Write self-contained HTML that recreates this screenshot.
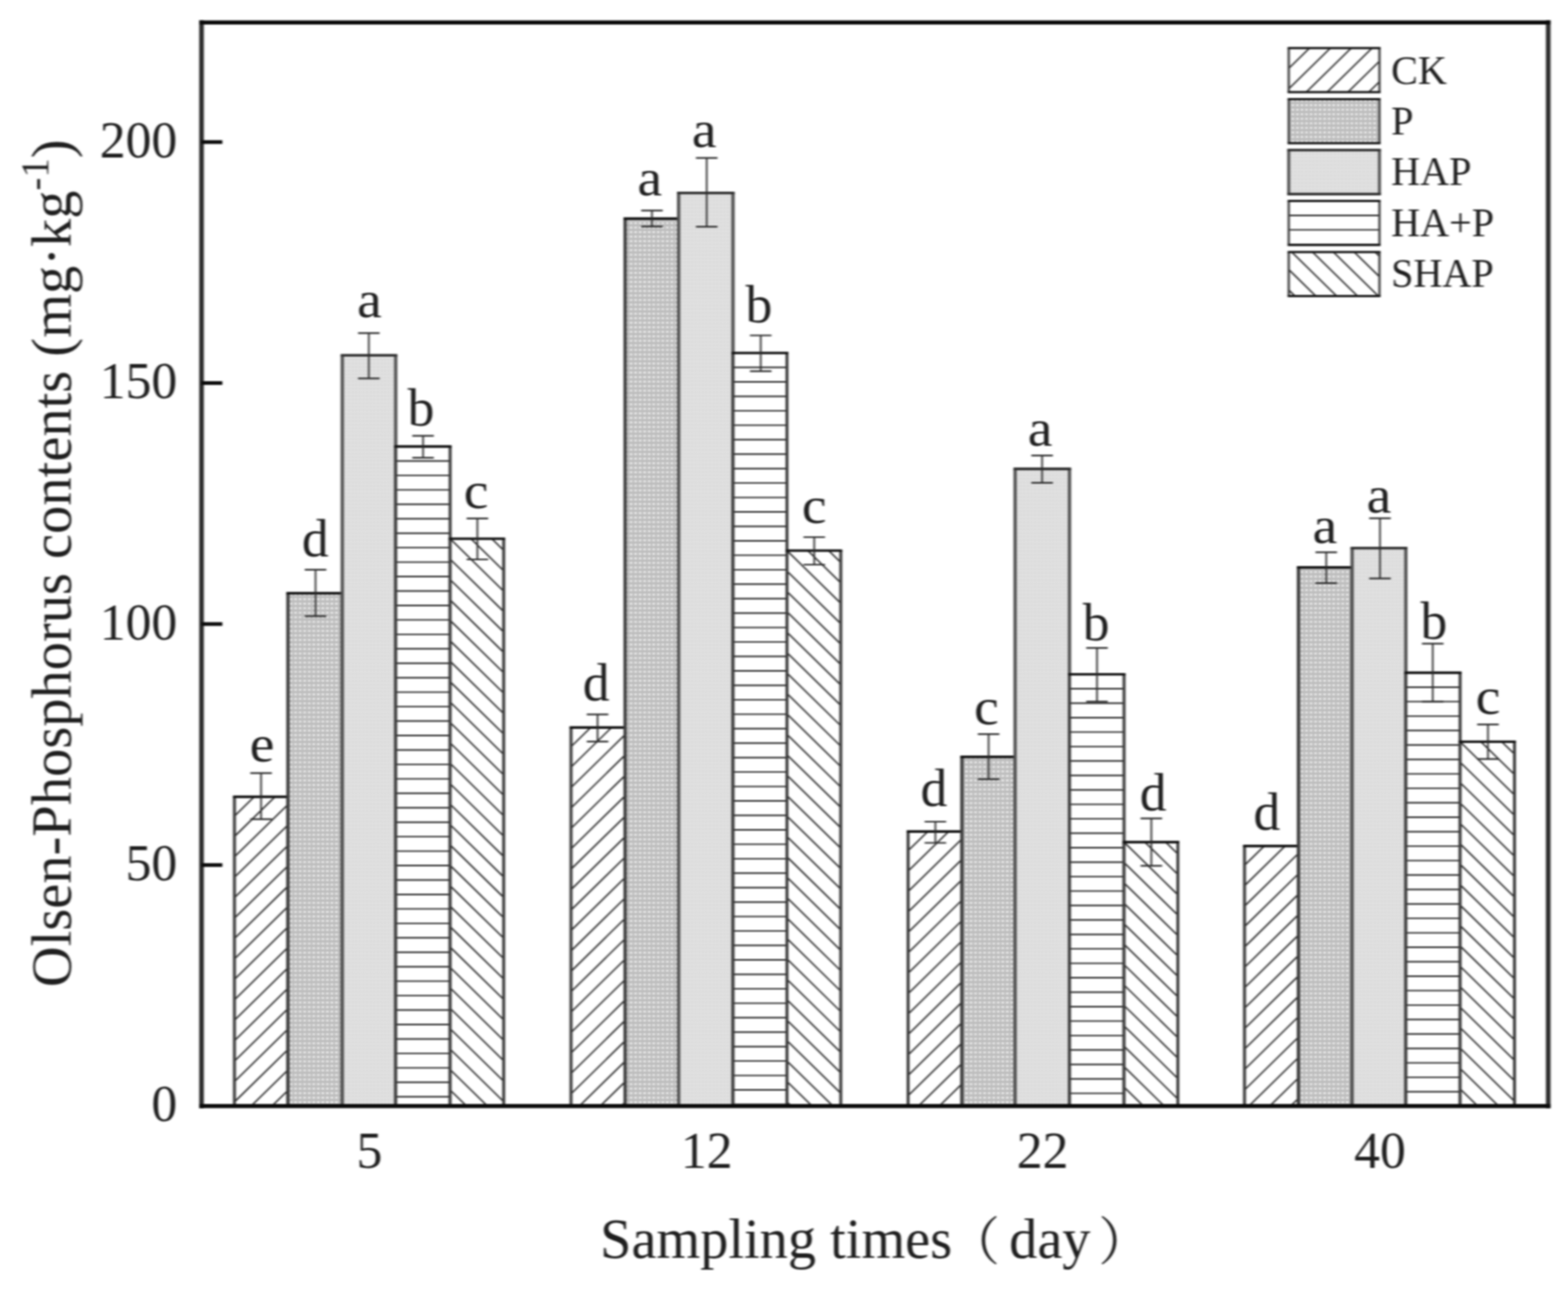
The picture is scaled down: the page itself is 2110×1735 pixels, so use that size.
<!DOCTYPE html>
<html lang="en"><head><meta charset="utf-8"><title>Olsen-Phosphorus contents</title>
<style>html,body{margin:0;padding:0;background:#fff;}body{width:2110px;height:1735px;overflow:hidden;}svg{display:block;}text{font-family:"Liberation Serif","Noto Serif CJK SC",serif;fill:#1e1e1e;}</style></head><body>
<svg width="2110" height="1735" viewBox="0 0 2110 1735">
<defs>
<pattern id="pP" width="6.1" height="6.1" patternUnits="userSpaceOnUse"><rect width="6.1" height="6.1" fill="#bdbdbd"/><rect x="0" y="0" width="2.6" height="2.6" fill="#fafafa"/></pattern>
<pattern id="pH" width="4.86" height="4.86" patternUnits="userSpaceOnUse"><rect width="4.86" height="4.86" fill="#dadada"/><rect x="0" y="0" width="4.86" height="1.2" fill="#e4e4e4"/><rect x="0" y="0" width="1.2" height="4.86" fill="#e4e4e4"/></pattern>
<filter id="bl" x="-2%" y="-2%" width="104%" height="104%" color-interpolation-filters="sRGB"><feGaussianBlur stdDeviation="1.45 1"/></filter>
</defs>
<rect width="2110" height="1735" fill="#ffffff"/>
<g filter="url(#bl)">
<rect x="315.50" y="1072.50" width="72.00" height="416.20" fill="#ffffff"/>
<clipPath id="c1"><rect x="315.50" y="1072.50" width="72.00" height="416.20"/></clipPath>
<path clip-path="url(#c1)" d="M315.50 988.56L387.50 918.00M315.50 1016.04L387.50 945.48M315.50 1043.52L387.50 972.96M315.50 1071.00L387.50 1000.44M315.50 1098.48L387.50 1027.92M315.50 1125.96L387.50 1055.40M315.50 1153.44L387.50 1082.88M315.50 1180.92L387.50 1110.36M315.50 1208.40L387.50 1137.84M315.50 1235.88L387.50 1165.32M315.50 1263.36L387.50 1192.80M315.50 1290.84L387.50 1220.28M315.50 1318.32L387.50 1247.76M315.50 1345.80L387.50 1275.24M315.50 1373.28L387.50 1302.72M315.50 1400.76L387.50 1330.20M315.50 1428.24L387.50 1357.68M315.50 1455.72L387.50 1385.16M315.50 1483.20L387.50 1412.64M315.50 1510.68L387.50 1440.12M315.50 1538.16L387.50 1467.60M315.50 1565.64L387.50 1495.08" fill="none" stroke="#202020" stroke-width="1.9"/>
<path d="M315.50 1488.70V1072.50M387.50 1072.50V1488.70" fill="none" stroke="#3b3b3b" stroke-width="4"/>
<path d="M313.50 1072.50H389.50" fill="none" stroke="#101010" stroke-width="3.4"/>
<rect x="387.50" y="798.50" width="73.10" height="690.20" fill="url(#pP)"/>
<path d="M387.50 1488.70V798.50M460.60 798.50V1488.70" fill="none" stroke="#3b3b3b" stroke-width="4.4"/>
<path d="M385.30 798.50H462.80" fill="none" stroke="#101010" stroke-width="3.4"/>
<rect x="460.60" y="478.20" width="71.90" height="1010.50" fill="url(#pH)"/>
<path d="M460.60 1488.70V478.20M532.50 478.20V1488.70" fill="none" stroke="#505050" stroke-width="4.4"/>
<path d="M458.40 478.20H534.70" fill="none" stroke="#303030" stroke-width="3.6"/>
<rect x="532.50" y="601.00" width="73.20" height="887.70" fill="#ffffff"/>
<clipPath id="c2"><rect x="532.50" y="601.00" width="73.20" height="887.70"/></clipPath>
<path clip-path="url(#c2)" d="M532.50 601.00H605.70M532.50 620.45H605.70M532.50 639.90H605.70M532.50 659.35H605.70M532.50 678.80H605.70M532.50 698.25H605.70M532.50 717.70H605.70M532.50 737.15H605.70M532.50 756.60H605.70M532.50 776.05H605.70M532.50 795.50H605.70M532.50 814.95H605.70M532.50 834.40H605.70M532.50 853.85H605.70M532.50 873.30H605.70M532.50 892.75H605.70M532.50 912.20H605.70M532.50 931.65H605.70M532.50 951.10H605.70M532.50 970.55H605.70M532.50 990.00H605.70M532.50 1009.45H605.70M532.50 1028.90H605.70M532.50 1048.35H605.70M532.50 1067.80H605.70M532.50 1087.25H605.70M532.50 1106.70H605.70M532.50 1126.15H605.70M532.50 1145.60H605.70M532.50 1165.05H605.70M532.50 1184.50H605.70M532.50 1203.95H605.70M532.50 1223.40H605.70M532.50 1242.85H605.70M532.50 1262.30H605.70M532.50 1281.75H605.70M532.50 1301.20H605.70M532.50 1320.65H605.70M532.50 1340.10H605.70M532.50 1359.55H605.70M532.50 1379.00H605.70M532.50 1398.45H605.70M532.50 1417.90H605.70M532.50 1437.35H605.70M532.50 1456.80H605.70M532.50 1476.25H605.70M532.50 1495.70H605.70" fill="none" stroke="#202020" stroke-width="1.9"/>
<path d="M532.50 1488.70V601.00M605.70 601.00V1488.70" fill="none" stroke="#3b3b3b" stroke-width="4"/>
<path d="M530.50 601.00H607.70" fill="none" stroke="#101010" stroke-width="3.4"/>
<rect x="605.70" y="725.10" width="72.10" height="763.60" fill="#ffffff"/>
<clipPath id="c3"><rect x="605.70" y="725.10" width="72.10" height="763.60"/></clipPath>
<path clip-path="url(#c3)" d="M605.70 642.66L677.80 713.32M605.70 670.14L677.80 740.80M605.70 697.62L677.80 768.28M605.70 725.10L677.80 795.76M605.70 752.58L677.80 823.24M605.70 780.06L677.80 850.72M605.70 807.54L677.80 878.20M605.70 835.02L677.80 905.68M605.70 862.50L677.80 933.16M605.70 889.98L677.80 960.64M605.70 917.46L677.80 988.12M605.70 944.94L677.80 1015.60M605.70 972.42L677.80 1043.08M605.70 999.90L677.80 1070.56M605.70 1027.38L677.80 1098.04M605.70 1054.86L677.80 1125.52M605.70 1082.34L677.80 1153.00M605.70 1109.82L677.80 1180.48M605.70 1137.30L677.80 1207.96M605.70 1164.78L677.80 1235.44M605.70 1192.26L677.80 1262.92M605.70 1219.74L677.80 1290.40M605.70 1247.22L677.80 1317.88M605.70 1274.70L677.80 1345.36M605.70 1302.18L677.80 1372.84M605.70 1329.66L677.80 1400.32M605.70 1357.14L677.80 1427.80M605.70 1384.62L677.80 1455.28M605.70 1412.10L677.80 1482.76M605.70 1439.58L677.80 1510.24M605.70 1467.06L677.80 1537.72M605.70 1494.54L677.80 1565.20M605.70 1522.02L677.80 1592.68M605.70 1549.50L677.80 1620.16M605.70 1576.98L677.80 1647.64" fill="none" stroke="#202020" stroke-width="1.9"/>
<path d="M605.70 1488.70V725.10M677.80 725.10V1488.70" fill="none" stroke="#3b3b3b" stroke-width="4"/>
<path d="M603.70 725.10H679.80" fill="none" stroke="#101010" stroke-width="3.4"/>
<rect x="768.40" y="979.20" width="72.80" height="509.50" fill="#ffffff"/>
<clipPath id="c4"><rect x="768.40" y="979.20" width="72.80" height="509.50"/></clipPath>
<path clip-path="url(#c4)" d="M768.40 895.26L841.20 823.92M768.40 922.74L841.20 851.40M768.40 950.22L841.20 878.88M768.40 977.70L841.20 906.36M768.40 1005.18L841.20 933.84M768.40 1032.66L841.20 961.32M768.40 1060.14L841.20 988.80M768.40 1087.62L841.20 1016.28M768.40 1115.10L841.20 1043.76M768.40 1142.58L841.20 1071.24M768.40 1170.06L841.20 1098.72M768.40 1197.54L841.20 1126.20M768.40 1225.02L841.20 1153.68M768.40 1252.50L841.20 1181.16M768.40 1279.98L841.20 1208.64M768.40 1307.46L841.20 1236.12M768.40 1334.94L841.20 1263.60M768.40 1362.42L841.20 1291.08M768.40 1389.90L841.20 1318.56M768.40 1417.38L841.20 1346.04M768.40 1444.86L841.20 1373.52M768.40 1472.34L841.20 1401.00M768.40 1499.82L841.20 1428.48M768.40 1527.30L841.20 1455.96M768.40 1554.78L841.20 1483.44M768.40 1582.26L841.20 1510.92" fill="none" stroke="#202020" stroke-width="1.9"/>
<path d="M768.40 1488.70V979.20M841.20 979.20V1488.70" fill="none" stroke="#3b3b3b" stroke-width="4"/>
<path d="M766.40 979.20H843.20" fill="none" stroke="#101010" stroke-width="3.4"/>
<rect x="841.20" y="294.20" width="72.00" height="1194.50" fill="url(#pP)"/>
<path d="M841.20 1488.70V294.20M913.20 294.20V1488.70" fill="none" stroke="#3b3b3b" stroke-width="4.4"/>
<path d="M839.00 294.20H915.40" fill="none" stroke="#101010" stroke-width="3.4"/>
<rect x="913.20" y="259.80" width="73.20" height="1228.90" fill="url(#pH)"/>
<path d="M913.20 1488.70V259.80M986.40 259.80V1488.70" fill="none" stroke="#505050" stroke-width="4.4"/>
<path d="M911.00 259.80H988.60" fill="none" stroke="#303030" stroke-width="3.6"/>
<rect x="986.40" y="475.10" width="72.60" height="1013.60" fill="#ffffff"/>
<clipPath id="c5"><rect x="986.40" y="475.10" width="72.60" height="1013.60"/></clipPath>
<path clip-path="url(#c5)" d="M986.40 475.10H1059.00M986.40 494.55H1059.00M986.40 514.00H1059.00M986.40 533.45H1059.00M986.40 552.90H1059.00M986.40 572.35H1059.00M986.40 591.80H1059.00M986.40 611.25H1059.00M986.40 630.70H1059.00M986.40 650.15H1059.00M986.40 669.60H1059.00M986.40 689.05H1059.00M986.40 708.50H1059.00M986.40 727.95H1059.00M986.40 747.40H1059.00M986.40 766.85H1059.00M986.40 786.30H1059.00M986.40 805.75H1059.00M986.40 825.20H1059.00M986.40 844.65H1059.00M986.40 864.10H1059.00M986.40 883.55H1059.00M986.40 903.00H1059.00M986.40 922.45H1059.00M986.40 941.90H1059.00M986.40 961.35H1059.00M986.40 980.80H1059.00M986.40 1000.25H1059.00M986.40 1019.70H1059.00M986.40 1039.15H1059.00M986.40 1058.60H1059.00M986.40 1078.05H1059.00M986.40 1097.50H1059.00M986.40 1116.95H1059.00M986.40 1136.40H1059.00M986.40 1155.85H1059.00M986.40 1175.30H1059.00M986.40 1194.75H1059.00M986.40 1214.20H1059.00M986.40 1233.65H1059.00M986.40 1253.10H1059.00M986.40 1272.55H1059.00M986.40 1292.00H1059.00M986.40 1311.45H1059.00M986.40 1330.90H1059.00M986.40 1350.35H1059.00M986.40 1369.80H1059.00M986.40 1389.25H1059.00M986.40 1408.70H1059.00M986.40 1428.15H1059.00M986.40 1447.60H1059.00M986.40 1467.05H1059.00M986.40 1486.50H1059.00M986.40 1505.95H1059.00" fill="none" stroke="#202020" stroke-width="1.9"/>
<path d="M986.40 1488.70V475.10M1059.00 475.10V1488.70" fill="none" stroke="#3b3b3b" stroke-width="4"/>
<path d="M984.40 475.10H1061.00" fill="none" stroke="#101010" stroke-width="3.4"/>
<rect x="1059.00" y="741.10" width="72.40" height="747.60" fill="#ffffff"/>
<clipPath id="c6"><rect x="1059.00" y="741.10" width="72.40" height="747.60"/></clipPath>
<path clip-path="url(#c6)" d="M1059.00 658.66L1131.40 729.61M1059.00 686.14L1131.40 757.09M1059.00 713.62L1131.40 784.57M1059.00 741.10L1131.40 812.05M1059.00 768.58L1131.40 839.53M1059.00 796.06L1131.40 867.01M1059.00 823.54L1131.40 894.49M1059.00 851.02L1131.40 921.97M1059.00 878.50L1131.40 949.45M1059.00 905.98L1131.40 976.93M1059.00 933.46L1131.40 1004.41M1059.00 960.94L1131.40 1031.89M1059.00 988.42L1131.40 1059.37M1059.00 1015.90L1131.40 1086.85M1059.00 1043.38L1131.40 1114.33M1059.00 1070.86L1131.40 1141.81M1059.00 1098.34L1131.40 1169.29M1059.00 1125.82L1131.40 1196.77M1059.00 1153.30L1131.40 1224.25M1059.00 1180.78L1131.40 1251.73M1059.00 1208.26L1131.40 1279.21M1059.00 1235.74L1131.40 1306.69M1059.00 1263.22L1131.40 1334.17M1059.00 1290.70L1131.40 1361.65M1059.00 1318.18L1131.40 1389.13M1059.00 1345.66L1131.40 1416.61M1059.00 1373.14L1131.40 1444.09M1059.00 1400.62L1131.40 1471.57M1059.00 1428.10L1131.40 1499.05M1059.00 1455.58L1131.40 1526.53M1059.00 1483.06L1131.40 1554.01M1059.00 1510.54L1131.40 1581.49M1059.00 1538.02L1131.40 1608.97M1059.00 1565.50L1131.40 1636.45" fill="none" stroke="#202020" stroke-width="1.9"/>
<path d="M1059.00 1488.70V741.10M1131.40 741.10V1488.70" fill="none" stroke="#3b3b3b" stroke-width="4"/>
<path d="M1057.00 741.10H1133.40" fill="none" stroke="#101010" stroke-width="3.4"/>
<rect x="1222.00" y="1119.20" width="72.40" height="369.50" fill="#ffffff"/>
<clipPath id="c7"><rect x="1222.00" y="1119.20" width="72.40" height="369.50"/></clipPath>
<path clip-path="url(#c7)" d="M1222.00 1035.26L1294.40 964.31M1222.00 1062.74L1294.40 991.79M1222.00 1090.22L1294.40 1019.27M1222.00 1117.70L1294.40 1046.75M1222.00 1145.18L1294.40 1074.23M1222.00 1172.66L1294.40 1101.71M1222.00 1200.14L1294.40 1129.19M1222.00 1227.62L1294.40 1156.67M1222.00 1255.10L1294.40 1184.15M1222.00 1282.58L1294.40 1211.63M1222.00 1310.06L1294.40 1239.11M1222.00 1337.54L1294.40 1266.59M1222.00 1365.02L1294.40 1294.07M1222.00 1392.50L1294.40 1321.55M1222.00 1419.98L1294.40 1349.03M1222.00 1447.46L1294.40 1376.51M1222.00 1474.94L1294.40 1403.99M1222.00 1502.42L1294.40 1431.47M1222.00 1529.90L1294.40 1458.95M1222.00 1557.38L1294.40 1486.43M1222.00 1584.86L1294.40 1513.91" fill="none" stroke="#202020" stroke-width="1.9"/>
<path d="M1222.00 1488.70V1119.20M1294.40 1119.20V1488.70" fill="none" stroke="#3b3b3b" stroke-width="4"/>
<path d="M1220.00 1119.20H1296.40" fill="none" stroke="#101010" stroke-width="3.4"/>
<rect x="1294.40" y="1018.70" width="71.60" height="470.00" fill="url(#pP)"/>
<path d="M1294.40 1488.70V1018.70M1366.00 1018.70V1488.70" fill="none" stroke="#3b3b3b" stroke-width="4.4"/>
<path d="M1292.20 1018.70H1368.20" fill="none" stroke="#101010" stroke-width="3.4"/>
<rect x="1366.00" y="631.10" width="73.20" height="857.60" fill="url(#pH)"/>
<path d="M1366.00 1488.70V631.10M1439.20 631.10V1488.70" fill="none" stroke="#505050" stroke-width="4.4"/>
<path d="M1363.80 631.10H1441.40" fill="none" stroke="#303030" stroke-width="3.6"/>
<rect x="1439.20" y="907.60" width="73.40" height="581.10" fill="#ffffff"/>
<clipPath id="c8"><rect x="1439.20" y="907.60" width="73.40" height="581.10"/></clipPath>
<path clip-path="url(#c8)" d="M1439.20 907.60H1512.60M1439.20 927.05H1512.60M1439.20 946.50H1512.60M1439.20 965.95H1512.60M1439.20 985.40H1512.60M1439.20 1004.85H1512.60M1439.20 1024.30H1512.60M1439.20 1043.75H1512.60M1439.20 1063.20H1512.60M1439.20 1082.65H1512.60M1439.20 1102.10H1512.60M1439.20 1121.55H1512.60M1439.20 1141.00H1512.60M1439.20 1160.45H1512.60M1439.20 1179.90H1512.60M1439.20 1199.35H1512.60M1439.20 1218.80H1512.60M1439.20 1238.25H1512.60M1439.20 1257.70H1512.60M1439.20 1277.15H1512.60M1439.20 1296.60H1512.60M1439.20 1316.05H1512.60M1439.20 1335.50H1512.60M1439.20 1354.95H1512.60M1439.20 1374.40H1512.60M1439.20 1393.85H1512.60M1439.20 1413.30H1512.60M1439.20 1432.75H1512.60M1439.20 1452.20H1512.60M1439.20 1471.65H1512.60M1439.20 1491.10H1512.60" fill="none" stroke="#202020" stroke-width="1.9"/>
<path d="M1439.20 1488.70V907.60M1512.60 907.60V1488.70" fill="none" stroke="#3b3b3b" stroke-width="4"/>
<path d="M1437.20 907.60H1514.60" fill="none" stroke="#101010" stroke-width="3.4"/>
<rect x="1512.60" y="1133.50" width="72.40" height="355.20" fill="#ffffff"/>
<clipPath id="c9"><rect x="1512.60" y="1133.50" width="72.40" height="355.20"/></clipPath>
<path clip-path="url(#c9)" d="M1512.60 1051.06L1585.00 1122.01M1512.60 1078.54L1585.00 1149.49M1512.60 1106.02L1585.00 1176.97M1512.60 1133.50L1585.00 1204.45M1512.60 1160.98L1585.00 1231.93M1512.60 1188.46L1585.00 1259.41M1512.60 1215.94L1585.00 1286.89M1512.60 1243.42L1585.00 1314.37M1512.60 1270.90L1585.00 1341.85M1512.60 1298.38L1585.00 1369.33M1512.60 1325.86L1585.00 1396.81M1512.60 1353.34L1585.00 1424.29M1512.60 1380.82L1585.00 1451.77M1512.60 1408.30L1585.00 1479.25M1512.60 1435.78L1585.00 1506.73M1512.60 1463.26L1585.00 1534.21M1512.60 1490.74L1585.00 1561.69M1512.60 1518.22L1585.00 1589.17M1512.60 1545.70L1585.00 1616.65M1512.60 1573.18L1585.00 1644.13" fill="none" stroke="#202020" stroke-width="1.9"/>
<path d="M1512.60 1488.70V1133.50M1585.00 1133.50V1488.70" fill="none" stroke="#3b3b3b" stroke-width="4"/>
<path d="M1510.60 1133.50H1587.00" fill="none" stroke="#101010" stroke-width="3.4"/>
<rect x="1674.70" y="1138.80" width="72.60" height="349.90" fill="#ffffff"/>
<clipPath id="c10"><rect x="1674.70" y="1138.80" width="72.60" height="349.90"/></clipPath>
<path clip-path="url(#c10)" d="M1674.70 1054.86L1747.30 983.71M1674.70 1082.34L1747.30 1011.19M1674.70 1109.82L1747.30 1038.67M1674.70 1137.30L1747.30 1066.15M1674.70 1164.78L1747.30 1093.63M1674.70 1192.26L1747.30 1121.11M1674.70 1219.74L1747.30 1148.59M1674.70 1247.22L1747.30 1176.07M1674.70 1274.70L1747.30 1203.55M1674.70 1302.18L1747.30 1231.03M1674.70 1329.66L1747.30 1258.51M1674.70 1357.14L1747.30 1285.99M1674.70 1384.62L1747.30 1313.47M1674.70 1412.10L1747.30 1340.95M1674.70 1439.58L1747.30 1368.43M1674.70 1467.06L1747.30 1395.91M1674.70 1494.54L1747.30 1423.39M1674.70 1522.02L1747.30 1450.87M1674.70 1549.50L1747.30 1478.35M1674.70 1576.98L1747.30 1505.83" fill="none" stroke="#202020" stroke-width="1.9"/>
<path d="M1674.70 1488.70V1138.80M1747.30 1138.80V1488.70" fill="none" stroke="#3b3b3b" stroke-width="4"/>
<path d="M1672.70 1138.80H1749.30" fill="none" stroke="#101010" stroke-width="3.4"/>
<rect x="1747.30" y="763.70" width="72.20" height="725.00" fill="url(#pP)"/>
<path d="M1747.30 1488.70V763.70M1819.50 763.70V1488.70" fill="none" stroke="#3b3b3b" stroke-width="4.4"/>
<path d="M1745.10 763.70H1821.70" fill="none" stroke="#101010" stroke-width="3.4"/>
<rect x="1819.50" y="737.80" width="72.30" height="750.90" fill="url(#pH)"/>
<path d="M1819.50 1488.70V737.80M1891.80 737.80V1488.70" fill="none" stroke="#505050" stroke-width="4.4"/>
<path d="M1817.30 737.80H1894.00" fill="none" stroke="#303030" stroke-width="3.6"/>
<rect x="1891.80" y="905.50" width="73.00" height="583.20" fill="#ffffff"/>
<clipPath id="c11"><rect x="1891.80" y="905.50" width="73.00" height="583.20"/></clipPath>
<path clip-path="url(#c11)" d="M1891.80 905.50H1964.80M1891.80 924.95H1964.80M1891.80 944.40H1964.80M1891.80 963.85H1964.80M1891.80 983.30H1964.80M1891.80 1002.75H1964.80M1891.80 1022.20H1964.80M1891.80 1041.65H1964.80M1891.80 1061.10H1964.80M1891.80 1080.55H1964.80M1891.80 1100.00H1964.80M1891.80 1119.45H1964.80M1891.80 1138.90H1964.80M1891.80 1158.35H1964.80M1891.80 1177.80H1964.80M1891.80 1197.25H1964.80M1891.80 1216.70H1964.80M1891.80 1236.15H1964.80M1891.80 1255.60H1964.80M1891.80 1275.05H1964.80M1891.80 1294.50H1964.80M1891.80 1313.95H1964.80M1891.80 1333.40H1964.80M1891.80 1352.85H1964.80M1891.80 1372.30H1964.80M1891.80 1391.75H1964.80M1891.80 1411.20H1964.80M1891.80 1430.65H1964.80M1891.80 1450.10H1964.80M1891.80 1469.55H1964.80M1891.80 1489.00H1964.80" fill="none" stroke="#202020" stroke-width="1.9"/>
<path d="M1891.80 1488.70V905.50M1964.80 905.50V1488.70" fill="none" stroke="#3b3b3b" stroke-width="4"/>
<path d="M1889.80 905.50H1966.80" fill="none" stroke="#101010" stroke-width="3.4"/>
<rect x="1964.80" y="998.40" width="73.20" height="490.30" fill="#ffffff"/>
<clipPath id="c12"><rect x="1964.80" y="998.40" width="73.20" height="490.30"/></clipPath>
<path clip-path="url(#c12)" d="M1964.80 915.96L2038.00 987.70M1964.80 943.44L2038.00 1015.18M1964.80 970.92L2038.00 1042.66M1964.80 998.40L2038.00 1070.14M1964.80 1025.88L2038.00 1097.62M1964.80 1053.36L2038.00 1125.10M1964.80 1080.84L2038.00 1152.58M1964.80 1108.32L2038.00 1180.06M1964.80 1135.80L2038.00 1207.54M1964.80 1163.28L2038.00 1235.02M1964.80 1190.76L2038.00 1262.50M1964.80 1218.24L2038.00 1289.98M1964.80 1245.72L2038.00 1317.46M1964.80 1273.20L2038.00 1344.94M1964.80 1300.68L2038.00 1372.42M1964.80 1328.16L2038.00 1399.90M1964.80 1355.64L2038.00 1427.38M1964.80 1383.12L2038.00 1454.86M1964.80 1410.60L2038.00 1482.34M1964.80 1438.08L2038.00 1509.82M1964.80 1465.56L2038.00 1537.30M1964.80 1493.04L2038.00 1564.78M1964.80 1520.52L2038.00 1592.26M1964.80 1548.00L2038.00 1619.74M1964.80 1575.48L2038.00 1647.22" fill="none" stroke="#202020" stroke-width="1.9"/>
<path d="M1964.80 1488.70V998.40M2038.00 998.40V1488.70" fill="none" stroke="#3b3b3b" stroke-width="4"/>
<path d="M1962.80 998.40H2040.00" fill="none" stroke="#101010" stroke-width="3.4"/>
<path d="M351.30 1040.70V1102.70M336.80 1040.70H365.80M336.80 1102.70H365.80" fill="none" stroke="#2a2a2a" stroke-width="2.2"/>
<path d="M424.60 766.80V829.40M410.10 766.80H439.10M410.10 829.40H439.10" fill="none" stroke="#2a2a2a" stroke-width="2.2"/>
<path d="M496.30 448.30V509.30M481.80 448.30H510.80M481.80 509.30H510.80" fill="none" stroke="#2a2a2a" stroke-width="2.2"/>
<path d="M569.30 586.70V616.10M554.80 586.70H583.80M554.80 616.10H583.80" fill="none" stroke="#2a2a2a" stroke-width="2.2"/>
<path d="M642.40 697.90V753.00M627.90 697.90H656.90M627.90 753.00H656.90" fill="none" stroke="#2a2a2a" stroke-width="2.2"/>
<path d="M804.10 961.70V998.10M789.60 961.70H818.60M789.60 998.10H818.60" fill="none" stroke="#2a2a2a" stroke-width="2.2"/>
<path d="M877.30 283.30V304.80M862.80 283.30H891.80M862.80 304.80H891.80" fill="none" stroke="#2a2a2a" stroke-width="2.2"/>
<path d="M951.00 212.60V305.20M936.50 212.60H965.50M936.50 305.20H965.50" fill="none" stroke="#2a2a2a" stroke-width="2.2"/>
<path d="M1023.70 451.50V499.60M1009.20 451.50H1038.20M1009.20 499.60H1038.20" fill="none" stroke="#2a2a2a" stroke-width="2.2"/>
<path d="M1095.70 723.00V760.00M1081.20 723.00H1110.20M1081.20 760.00H1110.20" fill="none" stroke="#2a2a2a" stroke-width="2.2"/>
<path d="M1258.70 1106.00V1134.50M1244.20 1106.00H1273.20M1244.20 1134.50H1273.20" fill="none" stroke="#2a2a2a" stroke-width="2.2"/>
<path d="M1330.30 988.20V1048.90M1315.80 988.20H1344.80M1315.80 1048.90H1344.80" fill="none" stroke="#2a2a2a" stroke-width="2.2"/>
<path d="M1402.30 613.20V649.80M1387.80 613.20H1416.80M1387.80 649.80H1416.80" fill="none" stroke="#2a2a2a" stroke-width="2.2"/>
<path d="M1476.20 872.20V944.40M1461.70 872.20H1490.70M1461.70 944.40H1490.70" fill="none" stroke="#2a2a2a" stroke-width="2.2"/>
<path d="M1549.30 1101.70V1165.30M1534.80 1101.70H1563.80M1534.80 1165.30H1563.80" fill="none" stroke="#2a2a2a" stroke-width="2.2"/>
<path d="M1784.70 743.40V784.80M1770.20 743.40H1799.20M1770.20 784.80H1799.20" fill="none" stroke="#2a2a2a" stroke-width="2.2"/>
<path d="M1857.00 697.60V778.60M1842.50 697.60H1871.50M1842.50 778.60H1871.50" fill="none" stroke="#2a2a2a" stroke-width="2.2"/>
<path d="M1928.00 866.40V944.40M1913.50 866.40H1942.50M1913.50 944.40H1942.50" fill="none" stroke="#2a2a2a" stroke-width="2.2"/>
<path d="M2002.30 975.10V1021.70M1987.80 975.10H2016.80M1987.80 1021.70H2016.80" fill="none" stroke="#2a2a2a" stroke-width="2.2"/>
<text transform="translate(352.50 1025.00) scale(1.04 0.955)" font-size="72" text-anchor="middle">e</text>
<text x="424.20" y="748.50" font-size="72" text-anchor="middle">d</text>
<text transform="translate(497.20 427.00) scale(1.04 0.955)" font-size="72" text-anchor="middle">a</text>
<text x="566.50" y="573.00" font-size="72" text-anchor="middle">b</text>
<text transform="translate(640.50 684.20) scale(1.04 0.955)" font-size="72" text-anchor="middle">c</text>
<text x="802.20" y="943.20" font-size="72" text-anchor="middle">d</text>
<text transform="translate(874.40 263.00) scale(1.04 0.955)" font-size="72" text-anchor="middle">a</text>
<text transform="translate(947.50 198.30) scale(1.04 0.955)" font-size="72" text-anchor="middle">a</text>
<text x="1021.20" y="434.20" font-size="72" text-anchor="middle">b</text>
<text transform="translate(1095.70 703.50) scale(1.04 0.955)" font-size="72" text-anchor="middle">c</text>
<text x="1256.70" y="1085.20" font-size="72" text-anchor="middle">d</text>
<text transform="translate(1327.40 974.80) scale(1.04 0.955)" font-size="72" text-anchor="middle">c</text>
<text transform="translate(1399.50 599.80) scale(1.04 0.955)" font-size="72" text-anchor="middle">a</text>
<text x="1475.10" y="862.30" font-size="72" text-anchor="middle">b</text>
<text x="1551.80" y="1091.20" font-size="72" text-anchor="middle">d</text>
<text x="1704.70" y="1117.40" font-size="72" text-anchor="middle">d</text>
<text transform="translate(1782.80 731.40) scale(1.04 0.955)" font-size="72" text-anchor="middle">a</text>
<text transform="translate(1855.50 689.60) scale(1.04 0.955)" font-size="72" text-anchor="middle">a</text>
<text x="1929.60" y="860.00" font-size="72" text-anchor="middle">b</text>
<text transform="translate(2002.30 961.00) scale(1.04 0.955)" font-size="72" text-anchor="middle">c</text>
<path d="M271.20 27.30V1491.70M2083.40 27.30V1491.70" fill="none" stroke="#2a2a2a" stroke-width="6.2"/>
<path d="M268.20 30.30H2086.40M268.20 1488.70H2086.40" fill="none" stroke="#0a0a0a" stroke-width="5.6"/>
<path d="M271.20 1164.33H299.20" stroke="#0a0a0a" stroke-width="5"/>
<path d="M271.20 839.95H299.20" stroke="#0a0a0a" stroke-width="5"/>
<path d="M271.20 515.58H299.20" stroke="#0a0a0a" stroke-width="5"/>
<path d="M271.20 191.20H299.20" stroke="#0a0a0a" stroke-width="5"/>
<text x="238.50" y="1509.30" font-size="69.5" text-anchor="end">0</text>
<text x="238.50" y="1185.00" font-size="69.5" text-anchor="end">50</text>
<text x="238.50" y="860.60" font-size="69.5" text-anchor="end">100</text>
<text x="238.50" y="536.20" font-size="69.5" text-anchor="end">150</text>
<text x="238.50" y="211.80" font-size="69.5" text-anchor="end">200</text>
<text x="497.00" y="1572.00" font-size="69.5" text-anchor="middle">5</text>
<text x="951.00" y="1572.00" font-size="69.5" text-anchor="middle">12</text>
<text x="1403.00" y="1572.00" font-size="69.5" text-anchor="middle">22</text>
<text x="1857.00" y="1572.00" font-size="69.5" text-anchor="middle">40</text>
<text y="1693.00" font-size="75.8" text-anchor="start"><tspan x="807.50">Sampling times</tspan><tspan x="1275.60" dy="3" font-size="70">（</tspan><tspan x="1358.00" dy="-3">day</tspan><tspan x="1478.00" dy="3" font-size="70">）</tspan></text>
<text transform="translate(95.00 1328.70) rotate(-90)" font-size="76" text-anchor="start">Olsen-Phosphorus contents (mg·kg<tspan dy="-30" font-size="52">-1</tspan><tspan dy="30">)</tspan></text>
<rect x="1734.20" y="64.70" width="122.10" height="59.20" fill="#ffffff"/>
<clipPath id="c13"><rect x="1734.20" y="64.70" width="122.10" height="59.20"/></clipPath>
<path clip-path="url(#c13)" d="M1734.20 -72.70L1856.30 -192.36M1734.20 -45.22L1856.30 -164.88M1734.20 -17.74L1856.30 -137.40M1734.20 9.74L1856.30 -109.92M1734.20 37.22L1856.30 -82.44M1734.20 64.70L1856.30 -54.96M1734.20 92.18L1856.30 -27.48M1734.20 119.66L1856.30 0.00M1734.20 147.14L1856.30 27.48M1734.20 174.62L1856.30 54.96M1734.20 202.10L1856.30 82.44M1734.20 229.58L1856.30 109.92M1734.20 257.06L1856.30 137.40" fill="none" stroke="#202020" stroke-width="1.9"/>
<path d="M1734.20 123.90V64.70M1856.30 64.70V123.90" fill="none" stroke="#3b3b3b" stroke-width="3"/>
<path d="M1732.70 64.70H1857.80M1732.70 123.90H1857.80" fill="none" stroke="#161616" stroke-width="3"/>
<text x="1872.00" y="112.50" font-size="54" text-anchor="start">CK</text>
<rect x="1734.20" y="133.50" width="122.10" height="59.20" fill="url(#pP)"/>
<path d="M1734.20 192.70V133.50M1856.30 133.50V192.70" fill="none" stroke="#3b3b3b" stroke-width="3"/>
<path d="M1732.70 133.50H1857.80M1732.70 192.70H1857.80" fill="none" stroke="#161616" stroke-width="3"/>
<text x="1872.00" y="181.00" font-size="54" text-anchor="start">P</text>
<rect x="1734.20" y="202.00" width="122.10" height="59.20" fill="url(#pH)"/>
<path d="M1734.20 261.20V202.00M1856.30 202.00V261.20" fill="none" stroke="#505050" stroke-width="4"/>
<path d="M1732.20 202.00H1858.30M1732.20 261.20H1858.30" fill="none" stroke="#303030" stroke-width="3.6"/>
<text x="1872.00" y="249.30" font-size="54" text-anchor="start">HAP</text>
<rect x="1734.20" y="270.50" width="122.10" height="59.20" fill="#ffffff"/>
<clipPath id="c14"><rect x="1734.20" y="270.50" width="122.10" height="59.20"/></clipPath>
<path clip-path="url(#c14)" d="M1734.20 270.50H1856.30M1734.20 289.95H1856.30M1734.20 309.40H1856.30M1734.20 328.85H1856.30M1734.20 348.30H1856.30" fill="none" stroke="#202020" stroke-width="1.9"/>
<path d="M1734.20 329.70V270.50M1856.30 270.50V329.70" fill="none" stroke="#3b3b3b" stroke-width="3"/>
<path d="M1732.70 270.50H1857.80M1732.70 329.70H1857.80" fill="none" stroke="#161616" stroke-width="3"/>
<text x="1872.00" y="317.80" font-size="54" text-anchor="start">HA+P</text>
<rect x="1734.20" y="339.30" width="122.10" height="59.20" fill="#ffffff"/>
<clipPath id="c15"><rect x="1734.20" y="339.30" width="122.10" height="59.20"/></clipPath>
<path clip-path="url(#c15)" d="M1734.20 197.90L1856.30 317.56M1734.20 225.38L1856.30 345.04M1734.20 252.86L1856.30 372.52M1734.20 280.34L1856.30 400.00M1734.20 307.82L1856.30 427.48M1734.20 335.30L1856.30 454.96M1734.20 362.78L1856.30 482.44M1734.20 390.26L1856.30 509.92M1734.20 417.74L1856.30 537.40M1734.20 445.22L1856.30 564.88M1734.20 472.70L1856.30 592.36M1734.20 500.18L1856.30 619.84M1734.20 527.66L1856.30 647.32" fill="none" stroke="#202020" stroke-width="1.9"/>
<path d="M1734.20 398.50V339.30M1856.30 339.30V398.50" fill="none" stroke="#3b3b3b" stroke-width="3"/>
<path d="M1732.70 339.30H1857.80M1732.70 398.50H1857.80" fill="none" stroke="#161616" stroke-width="3"/>
<text x="1872.00" y="386.00" font-size="54" text-anchor="start">SHAP</text>
</g>
</svg></body></html>
